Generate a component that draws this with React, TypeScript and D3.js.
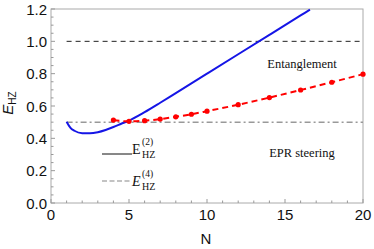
import React from "react";
import * as d3 from "d3";

// E_HZ^(2), solid blue curve
const blueN = [1, 1.25, 1.5, 2, 2.5, 3, 3.5, 4, 4.5, 5, 6, 7, 8, 9, 10, 12, 14, 16, 16.6];
const blueE = [0.503, 0.465, 0.447, 0.432, 0.431, 0.438, 0.452, 0.47, 0.49, 0.51, 0.562, 0.62, 0.68, 0.74, 0.8, 0.92, 1.04, 1.16, 1.196];

// E_HZ^(4), red dashed with dots
const redN = [4, 5, 6, 7, 8, 9, 10, 12, 14, 16, 18, 20];
const redE = [0.513, 0.505, 0.509, 0.519, 0.533, 0.549, 0.568, 0.608, 0.652, 0.699, 0.747, 0.797];

// threshold lines
const entLevel = 1.0;
const eprLevel = 0.5;
const lineRange = [1, 20];

const xTicks = [0, 5, 10, 15, 20];
const yTicks = [0, 0.2, 0.4, 0.6, 0.8, 1.0, 1.2];

const W = 374;
const H = 249;
const margin = { top: 9, right: 11, bottom: 46, left: 51 };

const App: React.FC = () => {
  const x = d3.scaleLinear().domain([0, 20]).range([margin.left, W - margin.right]);
  const y = d3.scaleLinear().domain([0, 1.2]).range([H - margin.bottom, margin.top]);

  const blue = blueN.map((n, i) => [n, blueE[i]] as [number, number]);
  const red = redN.map((n, i) => [n, redE[i]] as [number, number]);

  const line = d3
    .line<[number, number]>()
    .x((d) => x(d[0]))
    .y((d) => y(d[1]))
    .curve(d3.curveMonotoneX);

  const x0 = x(0);
  const y0 = y(0);
  const xMinor = d3.range(0, 21, 1);
  const yMinor = d3.range(0, 1.2001, 0.05);

  const sans = "'Liberation Sans', Arial, sans-serif";
  const serif = "'Liberation Serif', 'Times New Roman', serif";

  return (
    <svg
      width={W}
      height={H}
      style={{ position: "absolute", left: 0, top: 0, background: "#fff" }}
    >
      {/* frame */}
      <rect
        x={x0}
        y={y(1.2)}
        width={x(20) - x0}
        height={y0 - y(1.2)}
        fill="none"
        stroke="#aaa"
        strokeWidth={1}
      />
      {/* ticks */}
      {xMinor.map((t) => (
        <line
          key={"xm" + t}
          x1={x(t)}
          x2={x(t)}
          y1={y0}
          y2={y0 - (t % 5 === 0 ? 4 : 2.5)}
          stroke="#999"
        />
      ))}
      {yMinor.map((t, i) => (
        <line
          key={"ym" + i}
          x1={x0}
          x2={x0 + (i % 4 === 0 ? 4 : 2.5)}
          y1={y(t)}
          y2={y(t)}
          stroke="#999"
        />
      ))}
      {xTicks.map((t) => (
        <text key={"xt" + t} x={x(t)} y={y0 + 17} fontFamily={sans} fontSize={15} textAnchor="middle" fill="#111">
          {t}
        </text>
      ))}
      {yTicks.map((t) => (
        <text key={"yt" + t} x={x0 - 4} y={y(t) + 5.5} fontFamily={sans} fontSize={15} textAnchor="end" fill="#111">
          {t.toFixed(1)}
        </text>
      ))}

      {/* axis labels */}
      <text x={206} y={244} fontFamily={sans} fontSize={15} textAnchor="middle" fill="#111">
        N
      </text>
      <text transform="translate(13,103) rotate(-90)" fontFamily={sans} fontSize={15} textAnchor="middle" fill="#111">
        <tspan fontStyle="italic">E</tspan>
        <tspan fontSize={10} dy={3}>HZ</tspan>
      </text>

      {/* threshold lines */}
      <line
        x1={x(lineRange[0])}
        x2={x(lineRange[1])}
        y1={y(entLevel)}
        y2={y(entLevel)}
        stroke="#222"
        strokeWidth={1}
        strokeDasharray="5,4"
      />
      <line
        x1={x(lineRange[0])}
        x2={x(lineRange[1])}
        y1={y(eprLevel)}
        y2={y(eprLevel)}
        stroke="#999"
        strokeWidth={1.5}
        strokeDasharray="6,3,2,3"
      />

      {/* curves */}
      <path d={line(blue) ?? ""} fill="none" stroke="#1515e6" strokeWidth={2} />
      <path d={line(red) ?? ""} fill="none" stroke="#f00" strokeWidth={2} strokeDasharray="6,4" />
      {red.map((d, i) => (
        <circle key={"r" + i} cx={x(d[0])} cy={y(d[1])} r={2.6} fill="#f00" />
      ))}

      {/* region labels */}
      <text x={302} y={68} fontFamily={serif} fontSize={12.5} textAnchor="middle" fill="#111">
        Entanglement
      </text>
      <text x={302} y={157} fontFamily={serif} fontSize={12.5} textAnchor="middle" fill="#111">
        EPR steering
      </text>

      {/* legend */}
      <line x1={102} x2={132} y1={154} y2={154} stroke="#111" strokeWidth={1} />
      <text x={132} y={154} fontFamily={serif} fontSize={14} fill="#111">E</text>
      <text x={142} y={145} fontFamily={serif} fontSize={9.5} fill="#111">(2)</text>
      <text x={142} y={157.5} fontFamily={serif} fontSize={10} fill="#111">HZ</text>

      <line x1={102} x2={132} y1={181} y2={181} stroke="#888" strokeWidth={1.2} strokeDasharray="5,2.5" />
      <text x={132} y={186} fontFamily={serif} fontSize={14} fontStyle="italic" fill="#111">E</text>
      <text x={142} y={177} fontFamily={serif} fontSize={9.5} fill="#111">(4)</text>
      <text x={142} y={189.5} fontFamily={serif} fontSize={10} fill="#111">HZ</text>
    </svg>
  );
};

export default App;
